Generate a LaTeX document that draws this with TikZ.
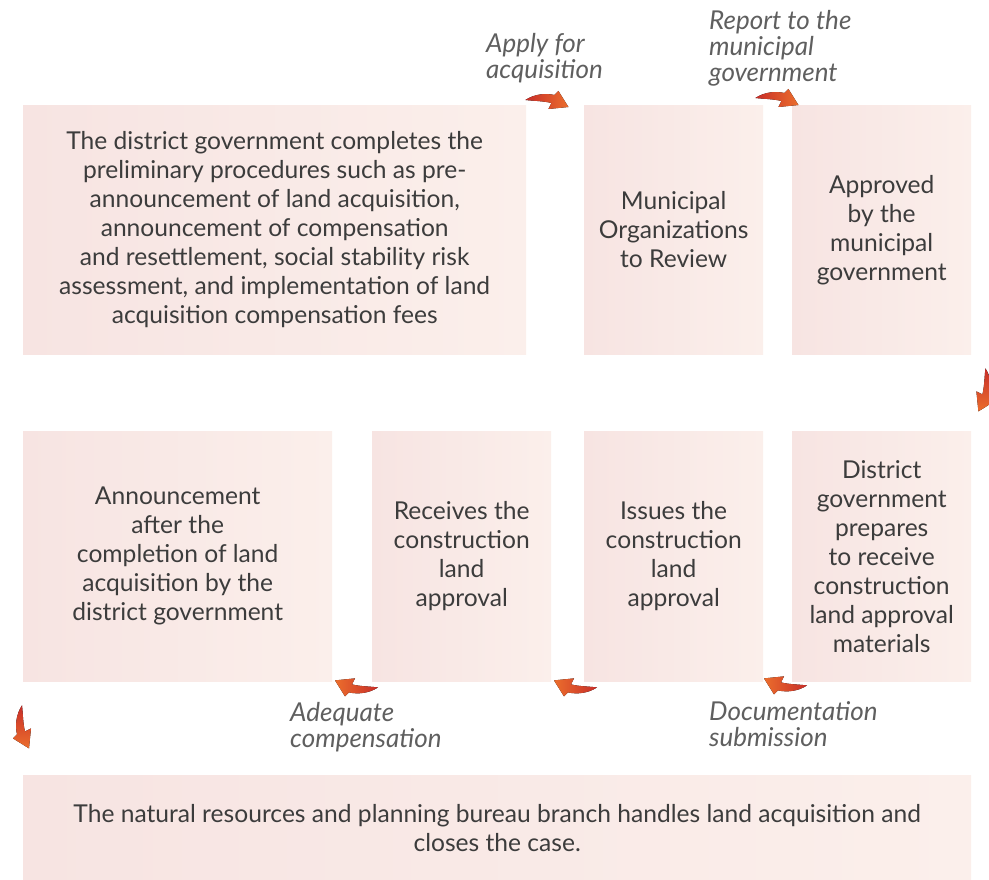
\documentclass[tikz,border=0pt]{standalone}
\usepackage{fontspec}
\setmainfont{Lato}
\usetikzlibrary{calc}
\definecolor{box-left}{RGB}{247, 228, 226}
\definecolor{box-right}{RGB}{251, 239, 235}
\definecolor{arr-red}{RGB}{200, 45, 40}
\definecolor{arr-orange}{RGB}{235, 110, 45}
\definecolor{txt-main}{RGB}{60, 60, 60}
\definecolor{txt-label}{RGB}{95, 95, 95}
\tikzset{
  stagebox/.style={anchor=north west, inner sep=0pt, align=center,
    left color=box-left, right color=box-right, draw=none,
    text=txt-main, font=\fontsize{24.6}{29}\selectfont},
  steplabel/.style={anchor=north west, inner sep=0pt, align=left,
    text=txt-label, font=\fontsize{26}{26}\selectfont\itshape}
}
% bent arrow, tail at the origin, pointing along +x
\newcommand{\bendarrow}[3]{%
  \begin{scope}[shift={#1},#2]
    \fill[#3]
      (0,0) .. controls (9,6) and (20,7) .. (29,5) -- (33,9) -- (43,-7)
      -- (23,-9) -- (26,-3) .. controls (18,-1) and (9,-1) .. (0,0) -- cycle;
  \end{scope}}

\begin{document}
\begin{tikzpicture}[x=1pt,y=1pt]
\useasboundingbox (0,0) rectangle (989,880);

\node[stagebox, minimum width=503, minimum height=249] (prelim) at (23,775)
  {The district government completes the\\ preliminary procedures such as pre-\\
   announcement of land acquisition,\\ announcement of compensation\\
   and resettlement, social stability risk\\ assessment, and implementation of land\\
   acquisition compensation fees};
\node[stagebox, minimum width=179, minimum height=249] (review) at (584,775)
  {Municipal\\ Organizations\\ to Review};
\node[stagebox, minimum width=179, minimum height=249] (approved) at (792,775)
  {Approved\\ by the\\ municipal\\ government};

\node[stagebox, minimum width=309, minimum height=250] (announce) at (23,449)
  {Announcement\\ after the\\ completion of land\\ acquisition by the\\ district government};
\node[stagebox, minimum width=179, minimum height=250] (receives) at (372,449)
  {Receives the\\ construction\\ land\\ approval};
\node[stagebox, minimum width=179, minimum height=250] (issues) at (584,449)
  {Issues the\\ construction\\ land\\ approval};
\node[stagebox, minimum width=179, minimum height=250] (prepares) at (792,449)
  {District\\ government\\ prepares\\ to receive\\ construction\\ land approval\\ materials};

\node[stagebox, minimum width=948, minimum height=105] (closes) at (23,105)
  {The natural resources and planning bureau branch handles land acquisition and\\ closes the case.};

\node[steplabel] (apply) at (486,847) {Apply for\\ acquisition};
\node[steplabel] (report) at (709,870) {Report to the\\ municipal\\ government};
\node[steplabel] (adequate) at (290,178) {Adequate\\ compensation};
\node[steplabel] (docs) at (709,179) {Documentation\\ submission};

% arrows between the stages
\bendarrow{($(prelim.north east)+(-1,5)$)}{}{left color=arr-red, right color=arr-orange}
\bendarrow{($(review.north east)+(-8,7)$)}{}{left color=arr-red, right color=arr-orange}
\bendarrow{($(approved.south east)+(14,-14)$)}{rotate=-90}{top color=arr-red, bottom color=arr-orange}
\bendarrow{($(prepares.south west)+(15,-4)$)}{rotate=180}{left color=arr-orange, right color=arr-red}
\bendarrow{($(issues.south west)+(13,-6)$)}{rotate=180}{left color=arr-orange, right color=arr-red}
\bendarrow{($(receives.south west)+(6,-6)$)}{rotate=180}{left color=arr-orange, right color=arr-red}
\bendarrow{($(announce.south west)+(-1,-24)$)}{cm={0,-1,-1,0,(0,0)}}{top color=arr-red, bottom color=arr-orange}
\end{tikzpicture}
\end{document}
